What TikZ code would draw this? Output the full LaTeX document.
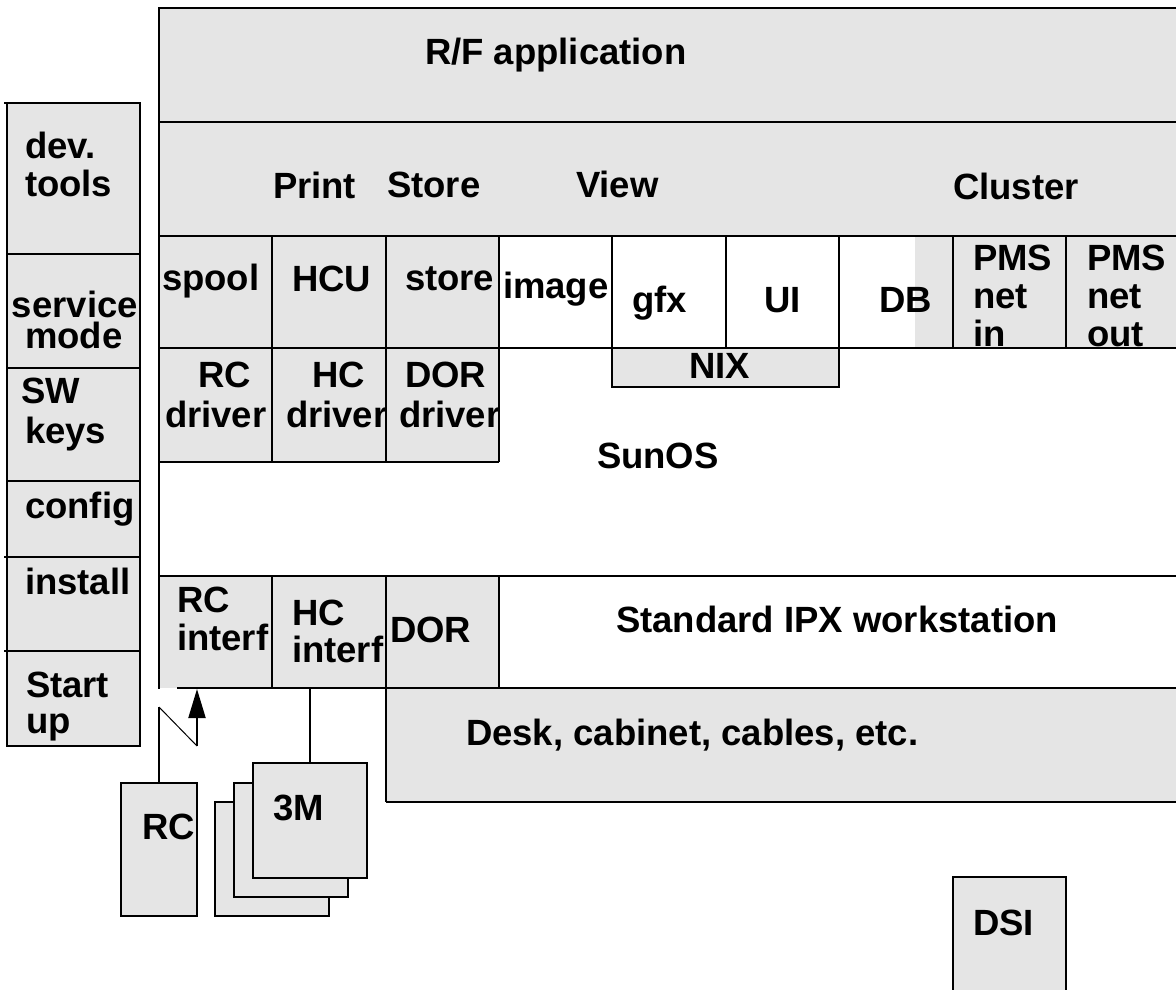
\documentclass[tikz,border=0pt]{standalone}
\usepackage{fontspec}
\setmainfont{Liberation Sans}
\usetikzlibrary{arrows.meta}
\definecolor{boxgray}{RGB}{229,229,229}
\tikzset{
  lw/.style={line width=2.7pt},
  lbl/.style={anchor=base west, inner sep=0pt, outer sep=0pt, font=\bfseries\fontsize{36.5}{36}\selectfont},
  blk/.style={draw, line width=2.7pt, fill=boxgray, anchor=north west, inner sep=0pt, outer sep=0pt},
  thinconn/.style={line width=1pt},
  conn/.style={line width=2pt},
}
\begin{document}
\begin{tikzpicture}[x=1pt,y=-1pt]
\useasboundingbox (0,0) rectangle (1176,990);
\clip (0,0) rectangle (1176,990);
% fills
\fill[boxgray] (159,8) rectangle (1190,236);
\fill[boxgray] (159,236) rectangle (499,348);
\fill[boxgray] (915,236) rectangle (1190,348);
\fill[boxgray] (159,348) rectangle (499,462);
\fill[boxgray] (612,348) rectangle (839,387);
\fill[boxgray] (159,576) rectangle (499,688);
\fill[boxgray] (386,688) rectangle (1190,802);
\fill[boxgray] (7,103) rectangle (140,746);
% frame lines
\draw[lw] (1190,8) -- (159,8) -- (159,689);
\foreach \yy in {122,236,348,576} \draw[lw] (159,\yy) -- (1190,\yy);
\draw[lw] (159,462) -- (499,462);
\draw[lw] (177,688) -- (1190,688);
\draw[lw] (386,802) -- (1190,802);
\foreach \xx in {272,386,499,612,726,839,953,1066} \draw[lw] (\xx,236) -- (\xx,348);
\foreach \xx in {272,386,499} {\draw[lw] (\xx,348) -- (\xx,462); \draw[lw] (\xx,576) -- (\xx,688);}
\draw[lw] (386,688) -- (386,802);
\draw[lw] (612,348) rectangle (839,387);
% left column
\draw[lw] (7,103) rectangle (140,746);
\draw[lw] (4,103) -- (7,103);
\foreach \yy in {254,368,481} \draw[lw] (7,\yy) -- (140,\yy);
\foreach \yy in {557,651} \draw[lw] (4,\yy) -- (140,\yy);
% external boxes
\node[blk, minimum width=114pt, minimum height=114pt] (m3back) at (215,802) {};
\node[blk, minimum width=114pt, minimum height=114pt] (m3mid) at (234,783) {};
\node[blk, minimum width=114pt, minimum height=115pt] (m3front) at (253,763) {};
\node[blk, minimum width=76pt, minimum height=133pt] (rcbox) at (121,783) {};
\node[blk, minimum width=113pt, minimum height=123pt] (dsibox) at (953,877) {};
% connectors
\coordinate (hcport) at (310,688);
\draw[conn] (hcport) -- (hcport |- m3front.north);
\coordinate (rcbrka) at (159,707);
\coordinate (rcbrkb) at (197,746);
\coordinate (rcport) at (197,689);
\draw[conn] (rcbox.north) -- (rcbrka);
\draw[thinconn] (rcbrka) -- (rcbrkb);
\draw[conn, -{Triangle[length=29pt,width=17pt]}] (rcbrkb) -- (rcport);
% labels
\node[lbl] (trf) at (425,65) {R/F application};
\node[lbl] (tprint) at (273,198) {Print};
\node[lbl] (tstoreb) at (387,197) {Store};
\node[lbl] (tview) at (576,197) {View};
\node[lbl] (tcluster) at (953,199) {Cluster};
\node[lbl] (tspool) at (162,290) {spool};
\node[lbl] (thcu) at (292,291) {HCU};
\node[lbl] (tstore) at (405,290) {store};
\node[lbl] (timage) at (503,298) {image};
\node[lbl] (tgfx) at (632,312) {gfx};
\node[lbl] (tui) at (764,312) {UI};
\node[lbl] (tdb) at (879,312) {DB};
\begin{scope}
\clip (953,236) rectangle (1190,346.5);
\node[lbl] (tpmsa1) at (973,270) {PMS};
\node[lbl] (tpmsa2) at (973,308) {net};
\node[lbl] (tpmsa3) at (973,346) {in};
\node[lbl] (tpmsb1) at (1087,270) {PMS};
\node[lbl] (tpmsb2) at (1087,308) {net};
\node[lbl] (tpmsb3) at (1087,346) {out};
\end{scope}
\node[lbl] (trcd1) at (198,387) {RC};
\node[lbl] (trcd2) at (165,427) {driver};
\node[lbl] (thcd1) at (312,387) {HC};
\node[lbl] (thcd2) at (286,427) {driver};
\node[lbl] (tdord1) at (405,387) {DOR};
\node[lbl] (tdord2) at (399,427) {driver};
\node[lbl] (tnix) at (689,378) {NIX};
\node[lbl] (tsunos) at (597,468) {SunOS};
\node[lbl] (tdev1) at (25,158) {dev.};
\node[lbl] (tdev2) at (25,196) {tools};
\node[lbl] (tsvc1) at (12,317) {service};
\node[lbl] (tsvc2) at (25,348) {mode};
\node[lbl] (tsw1) at (21,403) {SW};
\node[lbl] (tsw2) at (25,443) {keys};
\node[lbl] (tcfg) at (25,518) {config};
\node[lbl] (tinst) at (25,594) {install};
\node[lbl] (tst1) at (26,697) {Start};
\node[lbl] (tst2) at (26,733) {up};
\node[lbl] (trci1) at (177,612) {RC};
\node[lbl] (trci2) at (177,650) {interf};
\node[lbl] (thci1) at (292,625) {HC};
\node[lbl] (thci2) at (292,662) {interf};
\node[lbl] (tdor) at (390,642) {DOR};
\node[lbl] (tipx) at (616,632) {Standard IPX workstation};
\node[lbl] (tdesk) at (466,745) {Desk, cabinet, cables, etc.};
\node[lbl] (tdsi) at (973,935) {DSI};
\node[lbl] (trc) at (142,839) {RC};
\node[lbl] (t3m) at (273,820) {3M};
\end{tikzpicture}
\end{document}
